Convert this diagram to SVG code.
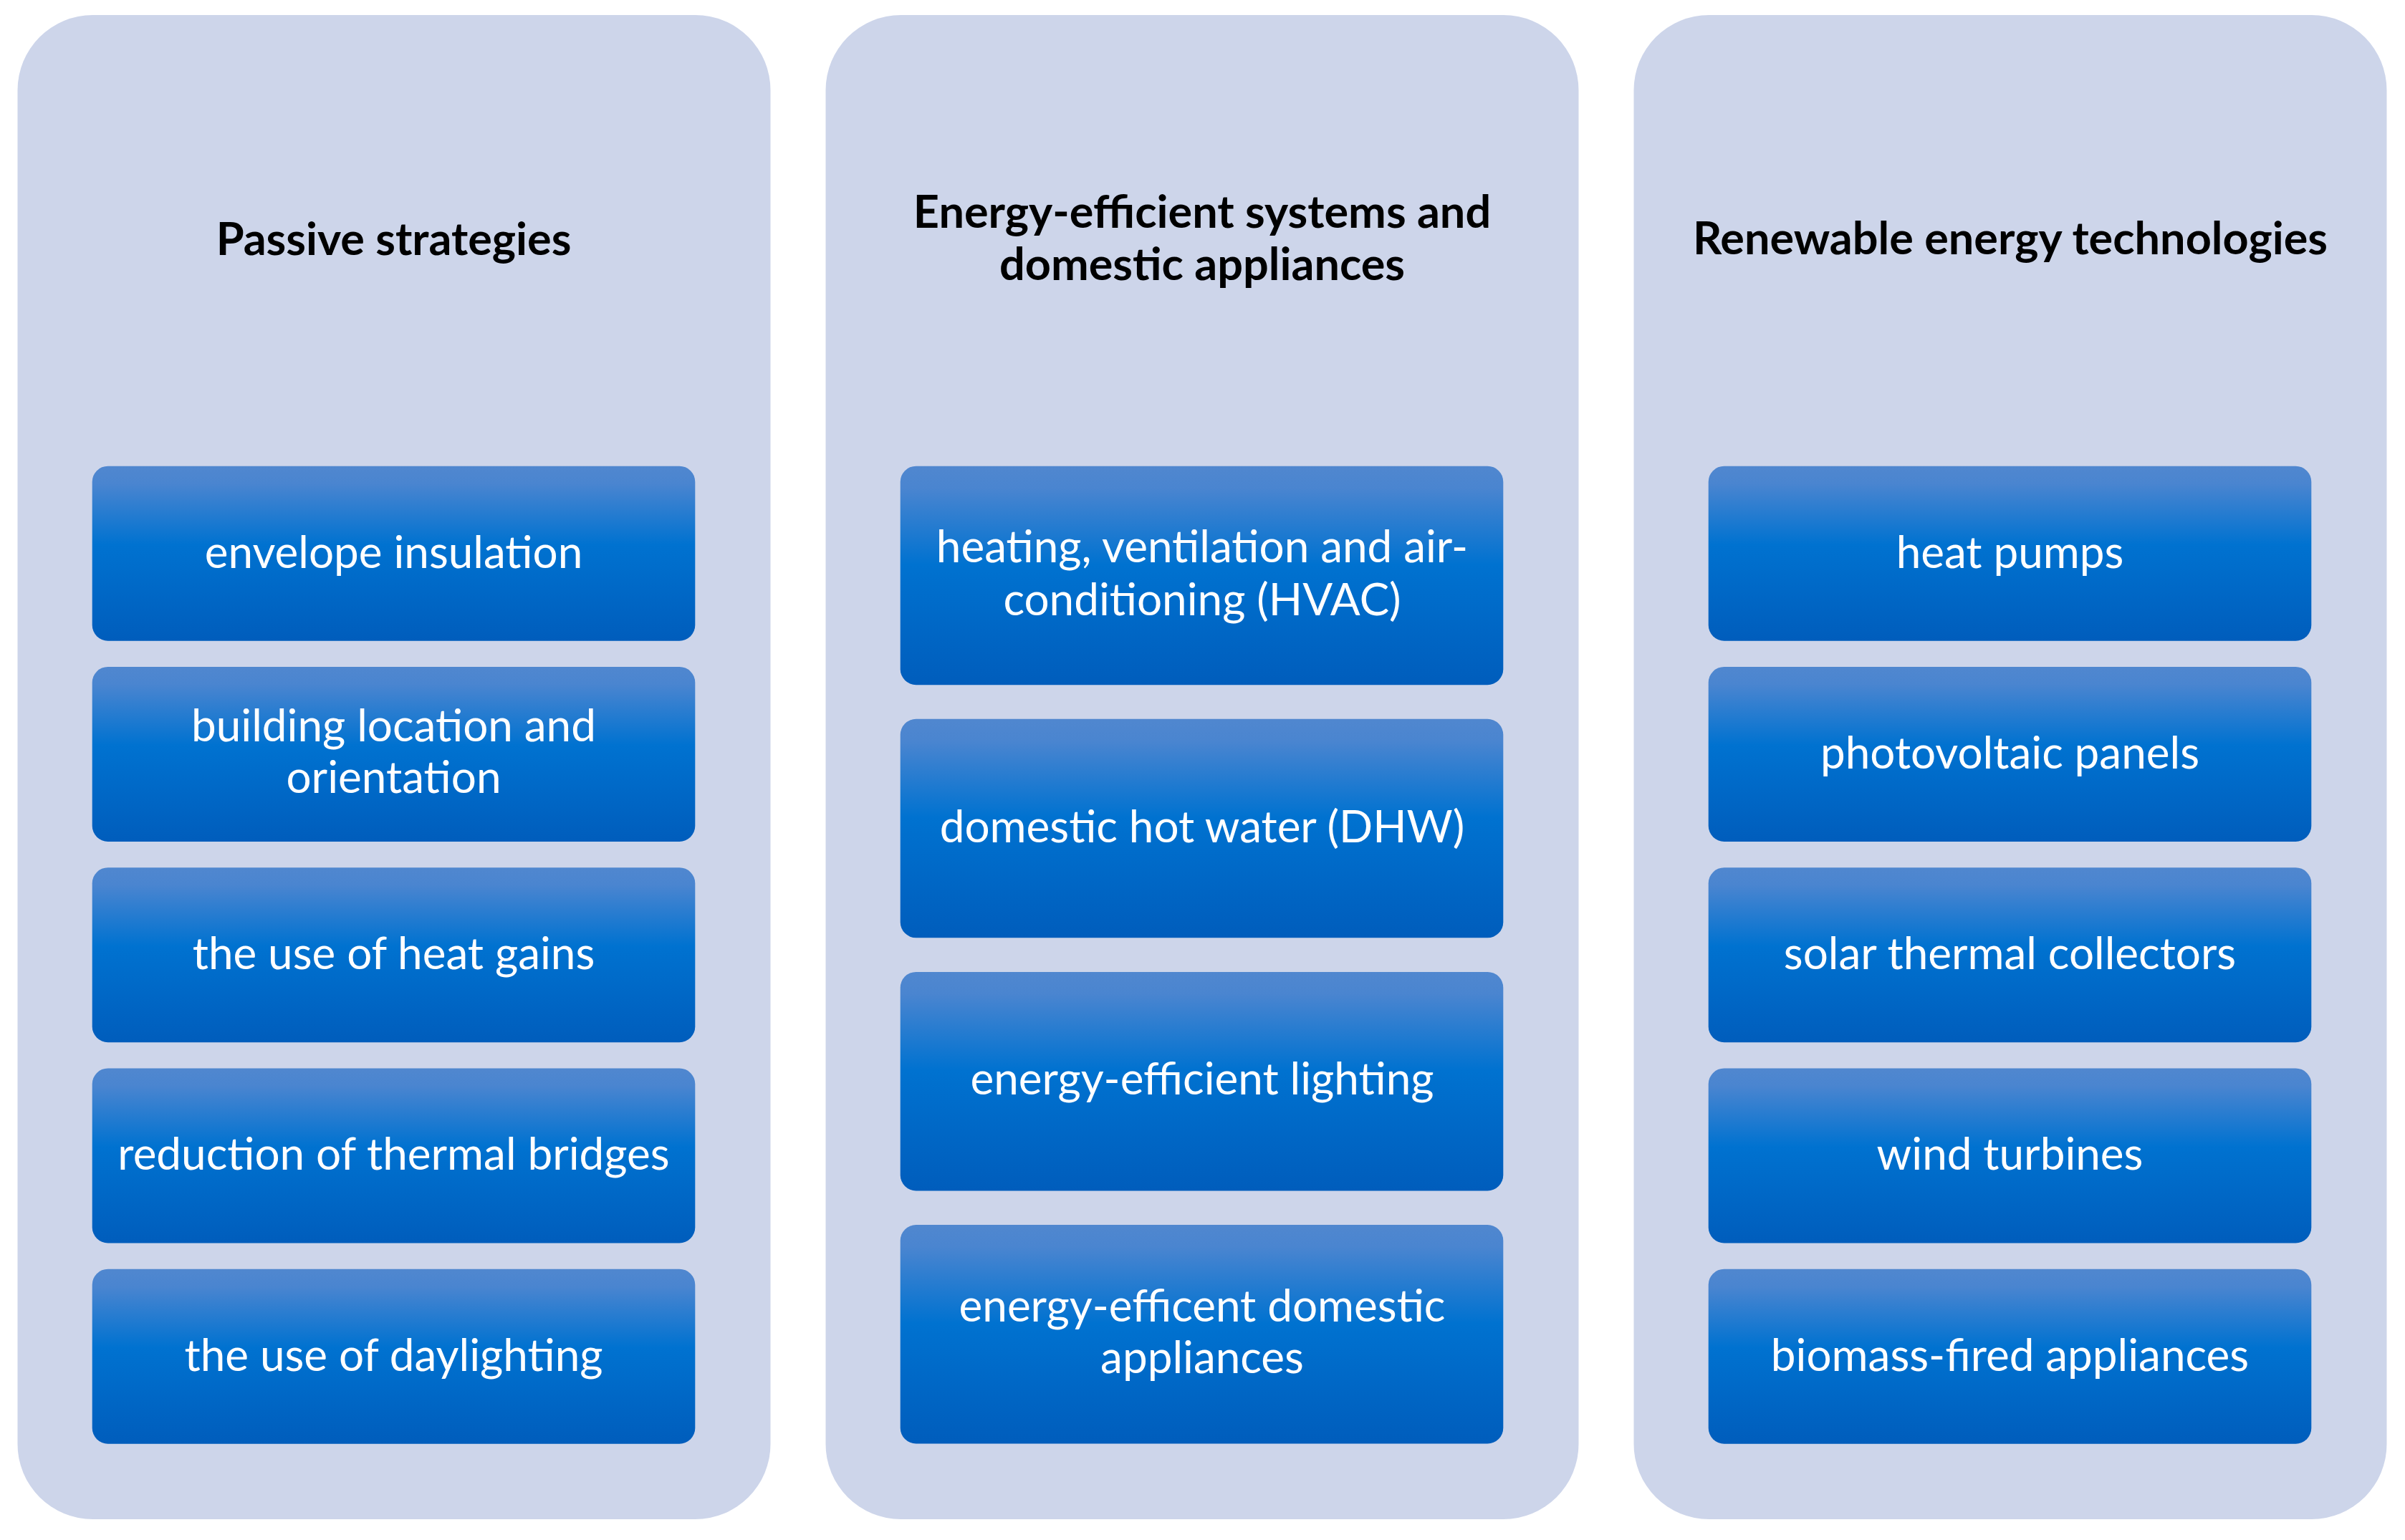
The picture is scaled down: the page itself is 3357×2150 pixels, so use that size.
<svg xmlns="http://www.w3.org/2000/svg" width="3357" height="2150" viewBox="0 0 3357 2150">
<style>
.col{fill:#cdd5ea}
.box{fill:url(#g)}
.hd{font-family:Lato,"Liberation Sans",sans-serif;font-weight:bold;font-size:63px;fill:#000;text-anchor:middle}
.tx{font-family:Lato,"Liberation Sans",sans-serif;font-size:62px;fill:#fff;text-anchor:middle}
</style>
<defs>
<linearGradient id="g" x1="0" y1="0" x2="0" y2="1">
<stop offset="0" stop-color="#5087cf"/>
<stop offset="0.1" stop-color="#4a85d0"/>
<stop offset="0.45" stop-color="#0072d0"/>
<stop offset="1" stop-color="#005dbc"/>
</linearGradient>
</defs>
<rect width="3357" height="2150" fill="#fff"/>
<g id="col-passive">
<rect class="col" x="24.5" y="21" width="1051" height="2100" rx="105"/>
<text class="hd" x="549.5" y="356">Passive strategies</text>
</g>
<g id="col-efficient">
<rect class="col" x="1152.5" y="21" width="1051" height="2100" rx="105"/>
<text class="hd" x="1678" y="317.5">Energy-efficient systems and</text>
<text class="hd" x="1678" y="391">domestic appliances</text>
</g>
<g id="col-renewable">
<rect class="col" x="2280.5" y="21" width="1051" height="2100" rx="105"/>
<text class="hd" x="2806" y="355">Renewable energy technologies</text>
</g>
<g id="p1"><rect class="box" x="128.7" y="650.7" width="841.6" height="244" rx="22"/><text class="tx" x="549.5" y="792.7">envelope insulation</text></g>
<g id="p2"><rect class="box" x="128.7" y="930.95" width="841.6" height="244" rx="22"/><text class="tx" x="549.5" y="1034.5">building location and</text><text class="tx" x="549.5" y="1106.8">orientation</text></g>
<g id="p3"><rect class="box" x="128.7" y="1211.2" width="841.6" height="244" rx="22"/><text class="tx" x="549.5" y="1353.2">the use of heat gains</text></g>
<g id="p4"><rect class="box" x="128.7" y="1491.45" width="841.6" height="244" rx="22"/><text class="tx" x="549.5" y="1633.45">reduction of thermal bridges</text></g>
<g id="p5"><rect class="box" x="128.7" y="1771.7" width="841.6" height="244" rx="22"/><text class="tx" x="549.5" y="1913.7">the use of daylighting</text></g>
<g id="e1"><rect class="box" x="1256.7" y="650.7" width="841.6" height="305.5" rx="22"/><text class="tx" x="1678" y="785">heating, ventilation and air-</text><text class="tx" x="1678" y="858.8">conditioning (HVAC)</text></g>
<g id="e2"><rect class="box" x="1256.7" y="1003.8" width="841.6" height="305.5" rx="22"/><text class="tx" x="1678" y="1175.8">domestic hot water (DHW)</text></g>
<g id="e3"><rect class="box" x="1256.7" y="1356.9" width="841.6" height="305.5" rx="22"/><text class="tx" x="1678" y="1527.5">energy-efficient lighting</text></g>
<g id="e4"><rect class="box" x="1256.7" y="1710" width="841.6" height="305.5" rx="22"/><text class="tx" x="1678" y="1844.5">energy-efficent domestic</text><text class="tx" x="1678" y="1916.8">appliances</text></g>
<g id="r1"><rect class="box" x="2384.7" y="650.7" width="841.6" height="244" rx="22"/><text class="tx" x="2805.5" y="792.7">heat pumps</text></g>
<g id="r2"><rect class="box" x="2384.7" y="930.95" width="841.6" height="244" rx="22"/><text class="tx" x="2805.5" y="1072.95">photovoltaic panels</text></g>
<g id="r3"><rect class="box" x="2384.7" y="1211.2" width="841.6" height="244" rx="22"/><text class="tx" x="2805.5" y="1353.2">solar thermal collectors</text></g>
<g id="r4"><rect class="box" x="2384.7" y="1491.45" width="841.6" height="244" rx="22"/><text class="tx" x="2805.5" y="1633.45">wind turbines</text></g>
<g id="r5"><rect class="box" x="2384.7" y="1771.7" width="841.6" height="244" rx="22"/><text class="tx" x="2805.5" y="1913.7">biomass-fired appliances</text></g>
<g id="connectors"/>
</svg>
